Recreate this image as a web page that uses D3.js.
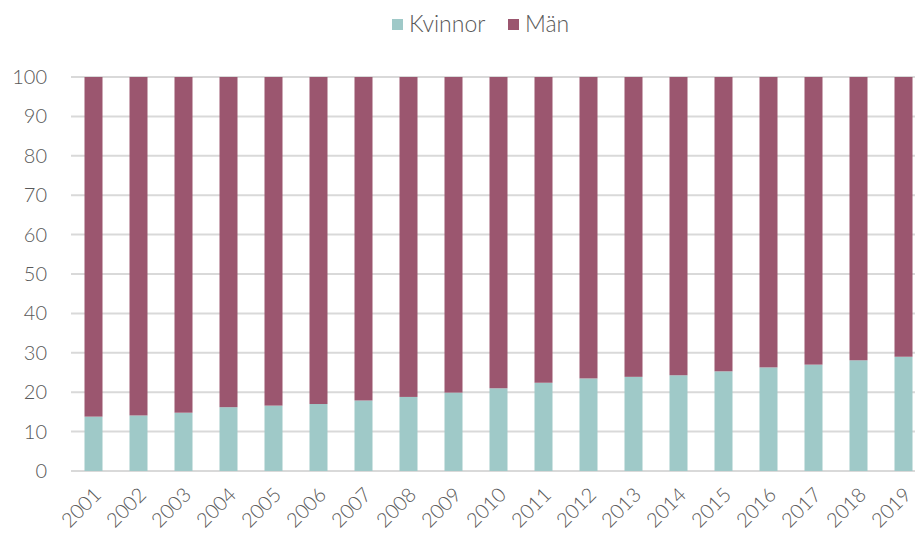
<!DOCTYPE html>
<html>
<head>
<meta charset="utf-8">
<script src="https://cdn.jsdelivr.net/npm/d3@7"></script>
<style>
  body { margin: 0; background: #fff; }
  svg text { font-family: "Lato", "Open Sans", sans-serif; font-weight: 300; fill: #595959; }
</style>
</head>
<body>
<div id="chart"></div>
<script>
// data
const years = ["2001","2002","2003","2004","2005","2006","2007","2008","2009","2010",
               "2011","2012","2013","2014","2015","2016","2017","2018","2019"];
const kvinnor = [13.8, 14.1, 14.8, 16.2, 16.6, 17.0, 17.9, 18.8, 19.9, 21.0,
                 22.4, 23.5, 23.9, 24.3, 25.3, 26.3, 27.0, 28.1, 29.0];
const man = kvinnor.map(v => +(100 - v).toFixed(1));
const yTicks = [0, 10, 20, 30, 40, 50, 60, 70, 80, 90, 100];
const seriesNames = ["Kvinnor", "Män"];

const colors = { "Kvinnor": "#9fc9c8", "Män": "#9b566f" };

// dimensions
let W = 915, H = 539;
let margin = { top: 77, left: 71, bottom: 68 };
let width = 45 * years.length;
let height = H - margin.top - margin.bottom;

let svg = d3.select("#chart").append("svg")
  .attr("width", W).attr("height", H);

let g = svg.append("g")
  .attr("transform", `translate(${margin.left}, ${margin.top})`);

let x = d3.scaleBand().domain(years).range([0, width]).paddingInner(0.6).paddingOuter(0.3);
let y = d3.scaleLinear().domain([0, 100]).range([height, 0]);

// gridlines
g.append("g")
  .selectAll("line")
  .data(yTicks)
  .join("line")
  .attr("x1", 0).attr("x2", W - margin.left)
  .attr("y1", d => y(d)).attr("y2", d => y(d))
  .attr("stroke", "#d9d9d9")
  .attr("stroke-width", 2);

// y axis labels
let yAxis = g.append("g")
  .call(d3.axisLeft(y).tickValues(yTicks).tickSize(0).tickPadding(24));
yAxis.select(".domain").remove();
yAxis.selectAll("text")
  .style("font-size", "20px")
  .attr("fill", "#595959");

// stacked bars
let rows = years.map((yr, i) => ({ year: yr, "Kvinnor": kvinnor[i], "Män": man[i] }));
let stacked = d3.stack().keys(seriesNames)(rows);

g.append("g")
  .selectAll("g")
  .data(stacked)
  .join("g")
  .attr("fill", d => colors[d.key])
  .selectAll("rect")
  .data(d => d)
  .join("rect")
  .attr("x", d => x(d.data.year))
  .attr("y", d => y(d[1]))
  .attr("width", x.bandwidth())
  .attr("height", d => y(d[0]) - y(d[1]));

// x axis labels
let xAxis = g.append("g")
  .attr("transform", `translate(0, ${height})`)
  .call(d3.axisBottom(x).tickSize(0).tickPadding(0));
xAxis.select(".domain").remove();
xAxis.selectAll("text")
  .style("font-size", "20px")
  .style("text-anchor", "end")
  .attr("dy", 0)
  .attr("transform", "translate(9, 25) rotate(-45)");

// legend
let legend = svg.append("g").attr("transform", "translate(392, 19)");
let legItems = [{ name: "Kvinnor", x: 0 }, { name: "Män", x: 116 }];
legItems.forEach(it => {
  legend.append("rect")
    .attr("x", it.x).attr("y", 0)
    .attr("width", 11).attr("height", 11)
    .attr("fill", colors[it.name]);
  legend.append("text")
    .attr("x", it.x + 17).attr("y", 12.5)
    .style("font-size", "23px")
    .text(it.name);
});
</script>
</body>
</html>
